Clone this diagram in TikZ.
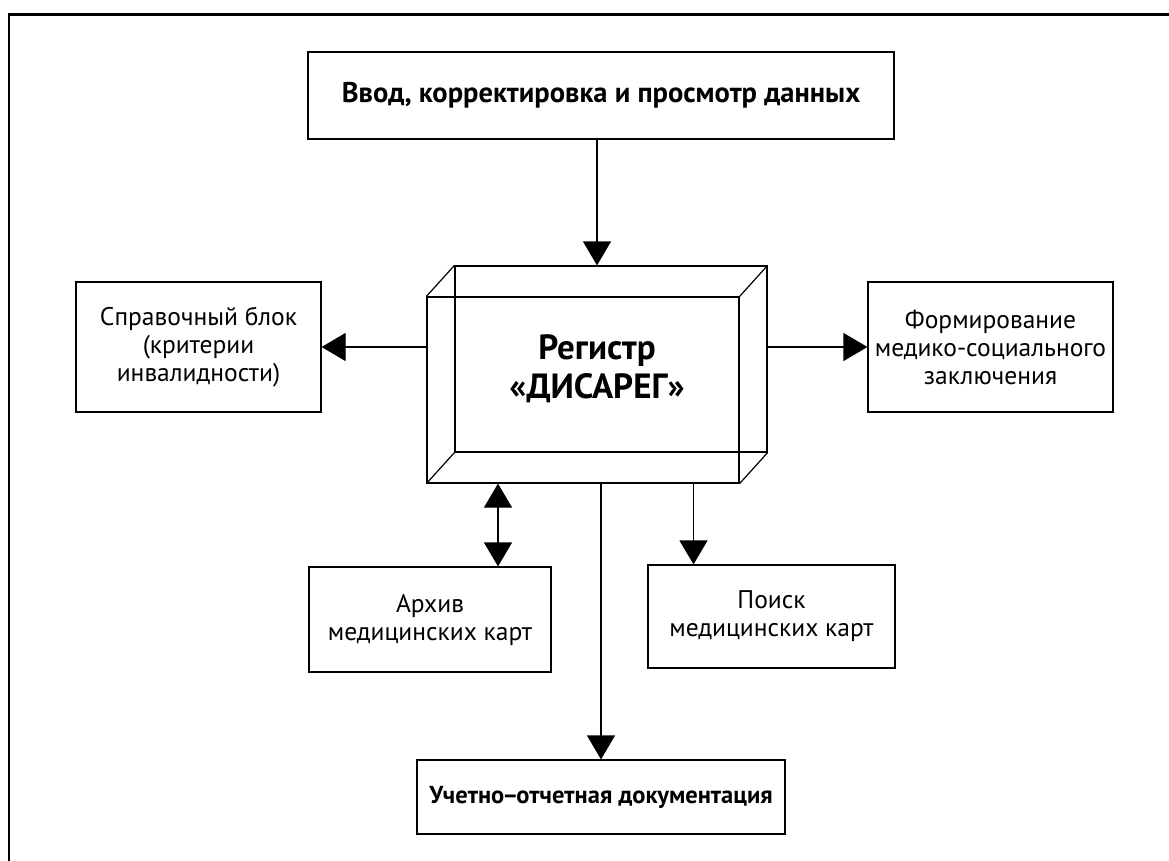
\documentclass[tikz,border=0pt]{standalone}
\usepackage{fontspec}
\setmainfont{PT Sans}
\usetikzlibrary{arrows.meta}

\begin{document}
\begin{tikzpicture}[x=1pt,y=-1pt,
    box/.style={draw, line width=1.2pt, align=center, inner sep=0pt,
        font=\fontsize{25.5}{28}\selectfont},
    arr/.style={draw, line width=1.2pt, -{Triangle[width=28pt,length=24pt]}},
    darr/.style={draw, line width=1.2pt, {Triangle[width=28pt,length=24pt]}-{Triangle[width=28pt,length=24pt]}}]
                \useasboundingbox (0,0) rectangle (1169,861);
                \draw[line width=2.5pt] (9,861) -- (9,14.5) -- (1169,14.5);
                \node[box, minimum width=586pt, minimum height=87pt, font=\fontsize{28.5}{30}\selectfont\bfseries] (input) at (601,95.5) {Ввод, корректировка и просмотр данных};
                \node[box, minimum width=312pt, minimum height=186pt] (front) at (583,390) {};
                \node[box, minimum width=312pt, minimum height=186pt] (back) at (611,359) {};
                \draw[line width=1.2pt] (front.north west) -- (back.north west) (front.north east) -- (back.north east)
                    (front.south west) -- (back.south west) (front.south east) -- (back.south east);
                \node[align=center, font=\fontsize{35}{39}\selectfont\bfseries] (title) at (597,369) {Регистр\\«ДИСАРЕГ»};
                \node[box, minimum width=245pt, minimum height=130pt] (ref) at (198.5,347) {Справочный блок\\(критерии\\инвалидности)};
                \node[box, minimum width=245pt, minimum height=130pt] (form) at (990.5,347) {Формирование\\медико-социального\\заключения};
                \node[box, minimum width=242pt, minimum height=105pt] (arch) at (430,619.5) {Архив\\медицинских карт};
                \node[box, minimum width=247pt, minimum height=103pt] (search) at (771.5,616.5) {Поиск\\медицинских карт};
                \node[box, minimum width=368pt, minimum height=74pt, font=\fontsize{24.5}{28}\selectfont\bfseries] (report) at (601,797) {Учетно\kern-2pt–\kern-2pt отчетная документация};
                \draw[arr] (title |- input.south) -- (title |- back.north);
                \draw[arr] (front.west |- ref.east) -- (ref.east);
                \draw[arr] (back.east |- form.west) -- (form.west);
                \draw[darr] ([xshift=68pt]arch.north |- front.south) -- ([xshift=68pt]arch.north);
                \draw[arr] (report.north |- front.south) -- (report.north);
                \draw[arr] ([xshift=-78pt]search.north |- front.south) -- ([xshift=-78pt]search.north);
            \end{tikzpicture}
\end{document}
